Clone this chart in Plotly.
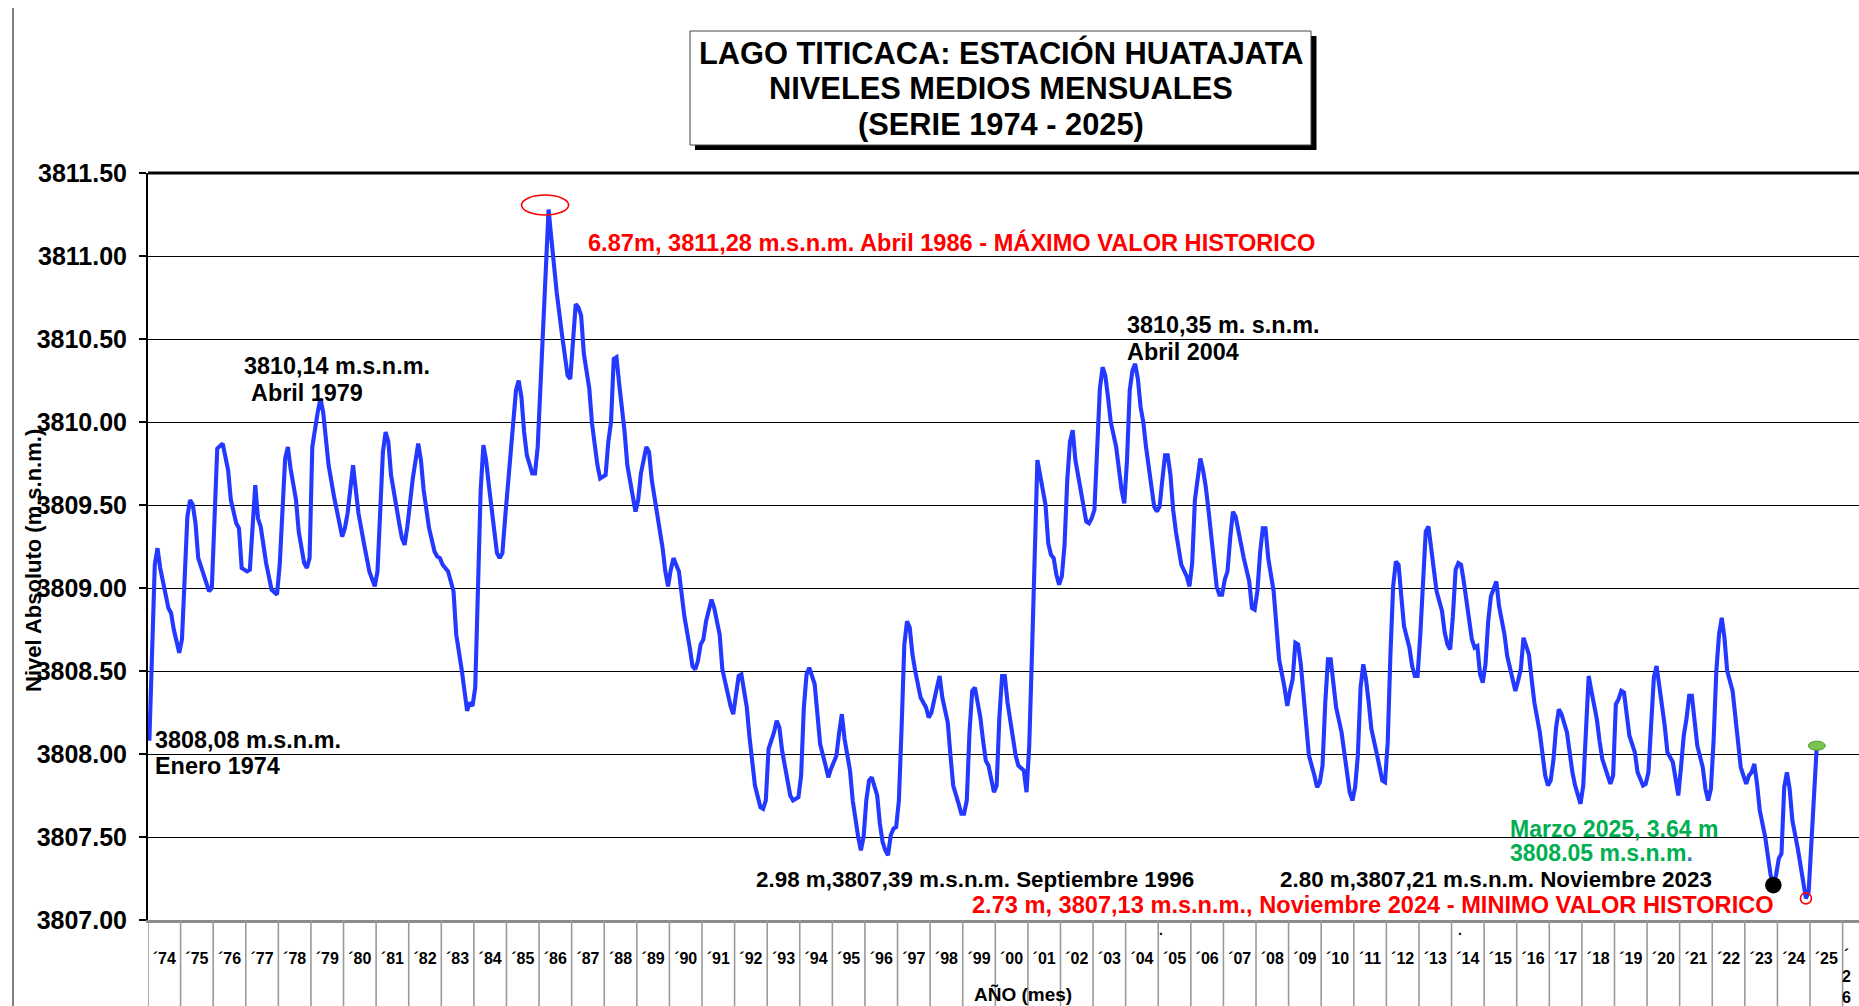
import plotly.graph_objects as go

# ---------------- DATA ----------------
# month offset from January 1974 (0 = Ene 1974) and monthly mean level (m.s.n.m.)
mes = [
    0, 2, 3, 4, 6, 7, 8, 9, 11,
    12, 14, 15, 16, 17, 18, 20, 22, 23,
    25, 27, 29, 30, 32, 33, 34,
    36, 37, 39, 40, 41, 42, 43, 45, 47,
    48, 50, 51, 52, 54, 55, 57, 58, 59,
    60, 62, 63, 64, 65, 66, 68, 69, 71,
    72, 73, 75, 76, 77, 79, 80, 81, 83,
    84, 86, 87, 88, 89, 92, 93, 94, 95,
    97, 99, 100, 101, 103, 105, 106, 107,
    108, 110, 112, 113, 115, 116, 117, 118, 119,
    120, 121, 122, 123, 124, 125, 127, 128, 129, 130, 131,
    132, 134, 135, 136, 137, 138, 139, 141, 142, 143,
    144, 145, 146, 147, 148, 149, 150, 152, 153, 154, 155,
    156, 157, 158, 159, 160, 162, 163, 164, 165, 166,
    168, 169, 170, 171, 172, 173, 175, 176, 178, 179,
    180, 181, 183, 184, 185, 187, 189, 190, 191,
    192, 193, 195, 196, 197, 199, 200, 201, 202, 203,
    204, 205, 207, 208, 210, 211, 213, 214, 215,
    216, 217, 218, 220, 221, 222, 223, 225, 226, 227,
    228, 230, 231, 232, 233, 235, 236, 237, 239,
    240, 241, 242, 243, 245, 246, 247, 249, 250, 251,
    253, 254, 255, 256, 258, 259, 260, 261, 262, 263,
    264, 265, 266, 268, 269, 270, 271, 272, 273, 274, 275,
    276, 277, 278, 279, 280, 281, 282, 284, 285, 286, 287,
    288, 290, 291, 292, 294, 295, 296, 298, 299,
    300, 301, 302, 303, 304, 306, 307, 308, 309, 310, 311,
    312, 313, 314, 315, 316, 318, 319, 320, 322, 323,
    324, 325, 326, 327, 328, 330, 331, 332, 333, 334, 335,
    336, 337, 338, 339, 340, 341, 342, 343, 344, 345, 346, 347,
    348, 349, 350, 351, 352, 353, 354, 356, 357, 358, 359,
    360, 361, 362, 363, 364, 365, 366, 367, 368, 369, 370, 371,
    372, 373, 374, 375, 376, 377, 378, 380, 381, 382, 383,
    384, 385, 386, 387, 388, 389, 390, 391, 392, 393, 394, 395,
    396, 397, 398, 399, 400, 401, 402, 403, 405, 406, 407,
    408, 409, 410, 411, 412, 414, 415, 416, 418, 419,
    420, 421, 422, 423, 424, 425, 426, 427, 429, 430, 431,
    432, 433, 434, 435, 436, 437, 439, 440, 441, 442, 443,
    444, 445, 446, 447, 448, 449, 450, 452, 453, 454, 455,
    456, 457, 458, 459, 460, 461, 462, 464, 465, 466, 467,
    468, 469, 470, 471, 472, 473, 474, 476, 477, 478, 479,
    480, 481, 482, 483, 484, 486, 487, 488, 489, 490, 491,
    492, 493, 494, 496, 497, 499, 500, 502, 503,
    504, 505, 506, 507, 508, 509, 510, 512, 513, 514, 515,
    516, 517, 518, 519, 520, 522, 523, 524, 525, 526, 527,
    528, 529, 530, 531, 532, 533, 534, 535, 537, 538, 539,
    540, 541, 542, 543, 544, 545, 547, 548, 550, 551,
    552, 553, 554, 555, 556, 557, 558, 559, 561, 562, 563,
    564, 565, 566, 567, 568, 569, 570, 572, 573, 574, 575,
    576, 577, 578, 579, 580, 581, 583, 584, 585, 586,
    588, 589, 590, 591, 592, 593, 595, 596, 597, 598, 599,
    600, 601, 602, 603, 604, 605, 607, 608, 609, 610, 611,
    612, 613, 614,
]
nivel = [
    3808.08, 3809.14, 3809.24, 3809.12, 3808.96, 3808.88, 3808.85, 3808.75, 3808.61,
    3808.69, 3809.43, 3809.53, 3809.50, 3809.39, 3809.18, 3809.08, 3808.98, 3809.00,
    3809.84, 3809.87, 3809.71, 3809.53, 3809.39, 3809.36, 3809.12,
    3809.10, 3809.11, 3809.62, 3809.42, 3809.37, 3809.27, 3809.15, 3808.99, 3808.96,
    3809.14, 3809.78, 3809.85, 3809.72, 3809.53, 3809.34, 3809.15, 3809.12, 3809.18,
    3809.85, 3810.06, 3810.14, 3810.06, 3809.90, 3809.74, 3809.55, 3809.47, 3809.31,
    3809.36, 3809.45, 3809.74, 3809.59, 3809.45, 3809.27, 3809.18, 3809.10, 3809.01,
    3809.10, 3809.82, 3809.94, 3809.88, 3809.68, 3809.39, 3809.30, 3809.26, 3809.37,
    3809.66, 3809.87, 3809.77, 3809.59, 3809.36, 3809.22, 3809.19, 3809.18,
    3809.14, 3809.10, 3808.98, 3808.72, 3808.51, 3808.37, 3808.26, 3808.31, 3808.29,
    3808.40, 3809.04, 3809.59, 3809.86, 3809.77, 3809.62, 3809.36, 3809.21, 3809.18, 3809.21, 3809.42,
    3809.62, 3810.03, 3810.19, 3810.25, 3810.15, 3809.94, 3809.80, 3809.69, 3809.69, 3809.85,
    3810.20, 3810.50, 3810.93, 3811.28, 3811.11, 3810.93, 3810.78, 3810.52, 3810.38, 3810.28, 3810.26,
    3810.50, 3810.71, 3810.69, 3810.64, 3810.41, 3810.20, 3809.99, 3809.85, 3809.74, 3809.66,
    3809.68, 3809.88, 3810.00, 3810.38, 3810.39, 3810.23, 3809.94, 3809.74, 3809.53, 3809.46,
    3809.53, 3809.69, 3809.85, 3809.82, 3809.65, 3809.45, 3809.24, 3809.10, 3809.01,
    3809.11, 3809.18, 3809.10, 3808.98, 3808.83, 3808.64, 3808.53, 3808.51, 3808.56, 3808.66,
    3808.69, 3808.80, 3808.93, 3808.88, 3808.72, 3808.51, 3808.35, 3808.29, 3808.24,
    3808.37, 3808.47, 3808.48, 3808.28, 3808.10, 3807.94, 3807.81, 3807.68, 3807.67, 3807.72,
    3808.03, 3808.13, 3808.20, 3808.16, 3808.02, 3807.84, 3807.75, 3807.72, 3807.74,
    3807.87, 3808.28, 3808.48, 3808.52, 3808.42, 3808.25, 3808.06, 3807.93, 3807.86, 3807.91,
    3807.99, 3808.13, 3808.24, 3808.09, 3807.90, 3807.72, 3807.59, 3807.50, 3807.42, 3807.50,
    3807.72, 3807.84, 3807.86, 3807.75, 3807.58, 3807.47, 3807.42, 3807.39, 3807.51, 3807.55, 3807.56,
    3807.72, 3808.16, 3808.66, 3808.80, 3808.76, 3808.60, 3808.50, 3808.34, 3808.31, 3808.28, 3808.22,
    3808.25, 3808.40, 3808.47, 3808.34, 3808.19, 3807.99, 3807.81, 3807.70, 3807.64,
    3807.64, 3807.72, 3808.13, 3808.38, 3808.40, 3808.22, 3808.08, 3807.96, 3807.93, 3807.84, 3807.77,
    3807.81, 3808.22, 3808.47, 3808.47, 3808.31, 3808.10, 3807.99, 3807.93, 3807.90, 3807.77,
    3808.05, 3808.60, 3809.18, 3809.77, 3809.68, 3809.50, 3809.27, 3809.20, 3809.18, 3809.08, 3809.02,
    3809.07, 3809.26, 3809.65, 3809.88, 3809.95, 3809.77, 3809.68, 3809.59, 3809.47, 3809.40, 3809.39, 3809.42,
    3809.47, 3809.82, 3810.20, 3810.33, 3810.28, 3810.15, 3810.00, 3809.85, 3809.72, 3809.59, 3809.51,
    3809.77, 3810.19, 3810.31, 3810.35, 3810.26, 3810.09, 3810.00, 3809.85, 3809.74, 3809.62, 3809.49, 3809.46,
    3809.49, 3809.65, 3809.80, 3809.80, 3809.68, 3809.47, 3809.34, 3809.14, 3809.11, 3809.07, 3809.01,
    3809.15, 3809.53, 3809.68, 3809.78, 3809.71, 3809.61, 3809.47, 3809.30, 3809.12, 3809.01, 3808.96, 3808.96,
    3809.05, 3809.10, 3809.30, 3809.46, 3809.43, 3809.34, 3809.27, 3809.18, 3809.04, 3808.88, 3808.87,
    3808.98, 3809.21, 3809.36, 3809.36, 3809.18, 3808.98, 3808.77, 3808.57, 3808.40, 3808.29,
    3808.38, 3808.45, 3808.67, 3808.66, 3808.54, 3808.34, 3808.19, 3807.99, 3807.87, 3807.80, 3807.83,
    3807.93, 3808.31, 3808.57, 3808.57, 3808.43, 3808.28, 3808.13, 3808.00, 3807.89, 3807.77, 3807.72,
    3807.80, 3807.99, 3808.40, 3808.54, 3808.45, 3808.31, 3808.15, 3808.00, 3807.92, 3807.84, 3807.83,
    3808.07, 3808.60, 3809.01, 3809.16, 3809.14, 3808.95, 3808.77, 3808.64, 3808.53, 3808.47, 3808.47,
    3808.72, 3809.04, 3809.34, 3809.37, 3809.24, 3809.10, 3808.98, 3808.86, 3808.73, 3808.66, 3808.63,
    3808.83, 3809.11, 3809.15, 3809.14, 3809.04, 3808.83, 3808.69, 3808.64, 3808.65, 3808.48, 3808.43,
    3808.54, 3808.80, 3808.95, 3809.04, 3808.89, 3808.72, 3808.59, 3808.45, 3808.38,
    3808.44, 3808.51, 3808.70, 3808.64, 3808.60, 3808.45, 3808.31, 3808.13, 3807.99, 3807.87, 3807.81,
    3807.84, 3807.96, 3808.16, 3808.27, 3808.24, 3808.13, 3807.99, 3807.89, 3807.81, 3807.76, 3807.70,
    3807.81, 3808.16, 3808.47, 3808.38, 3808.30, 3808.21, 3808.08, 3807.97, 3807.87, 3807.82, 3807.87,
    3808.30, 3808.33, 3808.38, 3808.37, 3808.24, 3808.11, 3808.01, 3807.89, 3807.81, 3807.82,
    3807.89, 3808.14, 3808.46, 3808.53, 3808.41, 3808.32, 3808.17, 3808.01, 3807.95, 3807.85, 3807.75,
    3807.92, 3808.11, 3808.21, 3808.35, 3808.35, 3808.19, 3808.05, 3807.92, 3807.79, 3807.72, 3807.79,
    3808.08, 3808.50, 3808.72, 3808.82, 3808.70, 3808.50, 3808.38, 3808.24, 3808.06, 3807.92,
    3807.82, 3807.87, 3807.89, 3807.94, 3807.82, 3807.66, 3807.50, 3807.37, 3807.27, 3807.21, 3807.27,
    3807.37, 3807.40, 3807.80, 3807.89, 3807.79, 3807.60, 3807.43, 3807.32, 3807.21, 3807.13, 3807.17,
    3807.45, 3807.78, 3808.05,
]
etiquetas_anio = [
    "´74", "´75", "´76", "´77", "´78", "´79", "´80", "´81", "´82", "´83",
    "´84", "´85", "´86", "´87", "´88", "´89", "´90", "´91", "´92", "´93",
    "´94", "´95", "´96", "´97", "´98", "´99", "´00", "´01", "´02", "´03",
    "´04", "´05", "´06", "´07", "´08", "´09", "´10", "´11", "´12", "´13",
    "´14", "´15", "´16", "´17", "´18", "´19", "´20", "´21", "´22", "´23",
    "´24", "´25",
]
y_ticks = [3807.0, 3807.5, 3808.0, 3808.5, 3809.0, 3809.5, 3810.0, 3810.5, 3811.0, 3811.5]

# highlighted months (offsets)
MES_MAX = 147      # Abril 1986
MES_MIN23 = 598    # Noviembre 2023
MES_MIN24 = 610    # Noviembre 2024
MES_MAR25 = 614    # Marzo 2025

assert len(mes) == len(nivel)

# ---------------- GEOMETRY ----------------
W, H = 1859, 1006
ML, MR, MT, MB = 148, 0, 173, 86
PW = W - ML - MR
PH = H - MT - MB
PX_MES = 2.7157
X0 = -0.5
X1 = X0 + PW / PX_MES
Y0, Y1 = 3807.0, 3811.5


def pxx(px):  # pixel -> paper x
    return (px - ML) / PW


def pxy(py):  # pixel -> paper y
    return (H - MB - py) / PH


FONT = "Liberation Sans, Arial, sans-serif"
BLUE = "#2339FF"
RED = "#FF0000"
GREEN = "#00B050"

val = dict(zip(mes, nivel))

fig = go.Figure()
fig.add_trace(go.Scatter(x=mes, y=nivel, mode="lines",
                         line=dict(color=BLUE, width=4.1), hoverinfo="skip",
                         showlegend=False))
fig.add_trace(go.Scatter(x=[MES_MIN23], y=[val[MES_MIN23]], mode="markers",
                         marker=dict(color="black", size=16.5), hoverinfo="skip",
                         showlegend=False))
fig.add_trace(go.Scatter(x=[MES_MIN24], y=[val[MES_MIN24]], mode="markers",
                         marker=dict(symbol="circle-open", color=RED, size=11,
                                     line=dict(width=1.6, color=RED)),
                         hoverinfo="skip", showlegend=False))

shapes = []
# year separators in the category-label band + monthly ticks after 2026
n_years = len(etiquetas_anio)
for k in range(n_years + 2):
    shapes.append(dict(type="line", xref="x", yref="paper",
                       x0=12 * k - 0.5, x1=12 * k - 0.5, y0=0, y1=pxy(H),
                       line=dict(color="#9a9a9a", width=1.6), layer="above"))
for m in range(12 * (n_years + 1), 12 * (n_years + 1) + 6):
    shapes.append(dict(type="line", xref="x", yref="paper",
                       x0=m + 0.5, x1=m + 0.5, y0=0, y1=pxy(H),
                       line=dict(color="#9a9a9a", width=1.2), layer="above"))
# top frame line of the plot area
shapes.append(dict(type="line", xref="paper", yref="paper", x0=0, x1=1, y0=1, y1=1,
                   line=dict(color="black", width=3)))
# outer left border of chart area
shapes.append(dict(type="line", xref="paper", yref="paper", x0=pxx(13), x1=pxx(13),
                   y0=pxy(8), y1=pxy(H), line=dict(color="black", width=1)))
# title box with shadow
shapes.append(dict(type="rect", xref="paper", yref="paper",
                   x0=pxx(695), x1=pxx(1316.5), y0=pxy(150), y1=pxy(36),
                   fillcolor="black", line=dict(width=0)))
shapes.append(dict(type="rect", xref="paper", yref="paper",
                   x0=pxx(690), x1=pxx(1311), y0=pxy(145), y1=pxy(31),
                   fillcolor="white", line=dict(color="#444", width=1)))
# red ellipse around the historic maximum
shapes.append(dict(type="circle", xref="x", yref="y", xsizemode="pixel", ysizemode="pixel",
                   xanchor=MES_MAX, yanchor=val[MES_MAX],
                   x0=-27, x1=20, y0=-5.5, y1=14.5,
                   line=dict(color=RED, width=1.6)))
# green ellipse at March 2025
shapes.append(dict(type="circle", xref="x", yref="y", xsizemode="pixel", ysizemode="pixel",
                   xanchor=MES_MAR25, yanchor=val[MES_MAR25],
                   x0=-8.5, x1=8.5, y0=-4.5, y1=4.5,
                   fillcolor="#7CC451", line=dict(color="#4E9A2E", width=1)))

annotations = []


def ann(text, px, py, color="black", size=23, xanchor="left", **kw):
    annotations.append(dict(text=text, x=pxx(px), y=pxy(py), xref="paper", yref="paper",
                            xanchor=xanchor, yanchor="middle", showarrow=False,
                            font=dict(family=FONT, size=size, color=color, weight="bold"),
                            **kw))


# title
ann("LAGO TITICACA: ESTACIÓN HUATAJATA", 1000.5, 53, size=30.8, xanchor="center")
ann("NIVELES MEDIOS MENSUALES", 1000.5, 89, size=30.8, xanchor="center")
ann("(SERIE 1974 - 2025)", 1000.5, 124, size=30.8, xanchor="center")
# point labels
ann("6.87m, 3811,28 m.s.n.m. Abril 1986 - MÁXIMO VALOR HISTORICO", 586, 242, RED, 23.6)
ann("3810,14 m.s.n.m.", 242, 366, size=23.4)
ann("Abril 1979", 249, 392.5, size=23.4)
ann("3808,08 m.s.n.m.", 153, 740, size=23.4)
ann("Enero 1974", 153, 766, size=23.4)
ann("3810,35 m. s.n.m.", 1125, 325, size=23.4)
ann("Abril 2004", 1125, 352, size=23.4)
ann("2.98 m,3807,39 m.s.n.m. Septiembre 1996", 754, 879, size=22.4)
ann("2.80 m,3807,21 m.s.n.m. Noviembre 2023", 1278, 879, size=22.4)
ann("2.73 m, 3807,13 m.s.n.m., Noviembre 2024 - MINIMO VALOR HISTORICO", 970, 905, RED, 23.6)
ann("Marzo 2025, 3.64 m", 1508, 829, GREEN, 23)
ann("3808.05 m.s.n.m<span style='color:#4472C4'>.</span>", 1508, 853, GREEN, 23)
# axis titles and extra label marks
ann("Nivel Absoluto (m.s.n.m.)", 33, 561, size=22, xanchor="center", textangle=-90)
ann("AÑO (mes)", 1023, 995, size=19, xanchor="center")
ann("´<br>2<br>6", 1846, 976, size=16, xanchor="center")
ann(".", 1161, 930, size=14, xanchor="center")
ann(".", 1460, 930, size=14, xanchor="center")

fig.update_layout(
    width=W, height=H, autosize=False,
    margin=dict(l=ML, r=MR, t=MT, b=MB, pad=0),
    paper_bgcolor="white", plot_bgcolor="white",
    hovermode=False, showlegend=False,
    font=dict(family=FONT, color="black"),
    shapes=shapes, annotations=annotations,
    xaxis=dict(range=[X0, X1], showgrid=False, zeroline=False,
               tickmode="array", tickvals=[12 * i + 5.5 for i in range(n_years)],
               ticktext=etiquetas_anio, ticks="",
               tickfont=dict(family=FONT, size=16, color="black", weight="bold"),
               ticklabelstandoff=22,
               showline=True, linecolor="#8c8c8c", linewidth=3),
    yaxis=dict(range=[Y0, Y1], tickmode="array", tickvals=y_ticks, tickformat=".2f",
               showgrid=True, gridcolor="black", gridwidth=1, zeroline=False,
               showline=True, linecolor="black", linewidth=2,
               ticks="outside", ticklen=7, tickwidth=1.5, tickcolor="black",
               tickfont=dict(family=FONT, size=25, color="black", weight="bold"),
               ticklabelstandoff=7),
)

fig.write_html("out.html", config={"displayModeBar": False},
               post_script="document.body.style.margin='0';document.body.style.overflow='hidden';")
